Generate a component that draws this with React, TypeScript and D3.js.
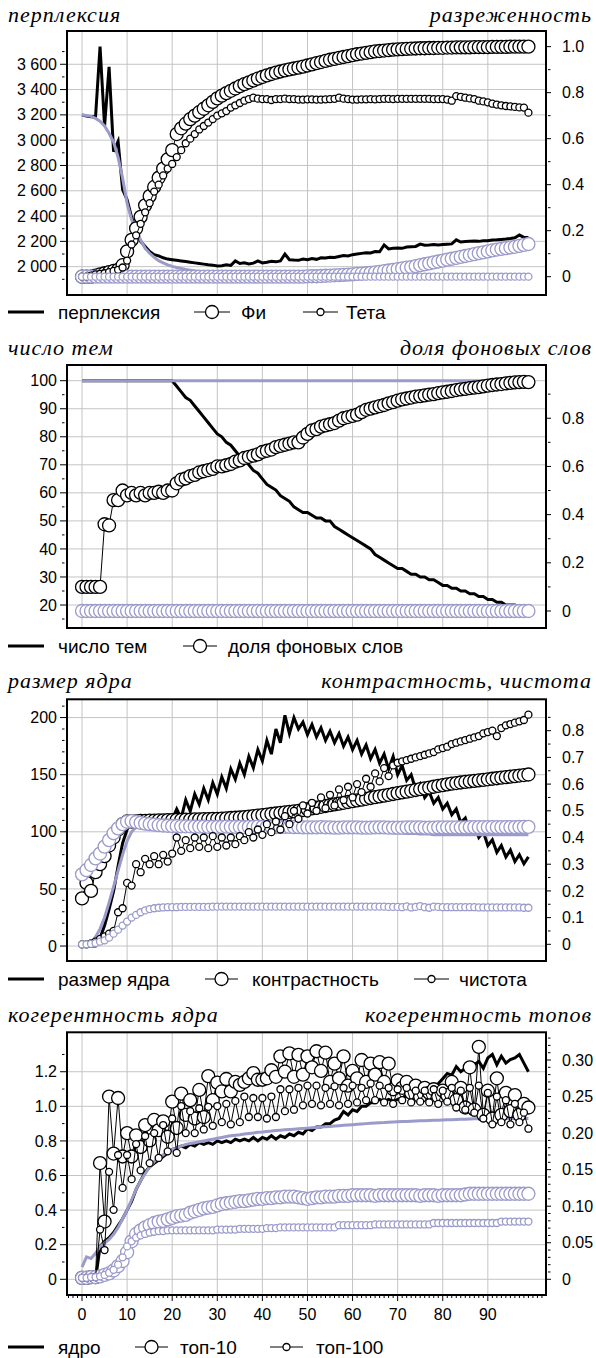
import React from 'react';
import * as d3 from 'd3';

// iterations 0..99 on the shared x axis
const iterations = d3.range(100);
const xTicks = [0, 10, 20, 30, 40, 50, 60, 70, 80, 90];

// ---- panel 1: perplexity (left), sparsity of Phi / Theta (right)
const perplexityDark = [
  3200, 3190, 3185, 3185, 3740, 3110, 3580, 2910, 2990, 2610,
  2530, 2390, 2280, 2200, 2160, 2120, 2095, 2085, 2070, 2060,
  2055, 2050, 2045, 2040, 2035, 2030, 2025, 2020, 2015, 2012,
  2005, 2008, 2015, 2010, 2045, 2025, 2030, 2022, 2028, 2045,
  2030, 2035, 2042, 2038, 2045, 2100, 2055, 2052, 2050, 2060,
  2055, 2065, 2058, 2070, 2068, 2075, 2072, 2080, 2088, 2085,
  2095, 2100, 2105, 2110, 2108, 2120, 2118, 2172, 2140, 2145,
  2148, 2145, 2155, 2158, 2160, 2178, 2170, 2172, 2175, 2172,
  2175, 2178, 2180, 2212, 2195, 2198, 2200, 2202, 2200, 2205,
  2205, 2210, 2212, 2215, 2218, 2222, 2228, 2250, 2232, 2230,
];
const perplexityLight = [
  3200, 3195, 3188, 3172, 3150, 3112, 3055, 2985, 2865, 2700,
  2500, 2370, 2290, 2210, 2145, 2106, 2074, 2048, 2030, 2014,
  2002, 1993, 1985, 1978, 1972, 1966, 1961, 1957, 1953, 1950,
  1947, 1945, 1943, 1941, 1940, 1938, 1937, 1936, 1935, 1934,
  1933, 1932, 1932, 1931, 1930, 1930, 1929, 1929, 1928, 1928,
  1928, 1927, 1927, 1927, 1927, 1926, 1926, 1926, 1926, 1926,
  1926, 1926, 1926, 1926, 1925, 1925, 1925, 1925, 1925, 1925,
  1925, 1925, 1925, 1925, 1925, 1925, 1925, 1925, 1925, 1925,
  1925, 1925, 1925, 1925, 1925, 1925, 1925, 1925, 1925, 1925,
  1925, 1925, 1925, 1925, 1925, 1925, 1925, 1925, 1925, 1925,
];
const phiDark = [
  0, 0, 0, .005, .01, .015, .02, .025, .03, .05,
  .11, .16, .21, .26, .31, .35, .39, .43, .47, .51,
  .55, .62, .645, .665, .685, .70, .715, .73, .745, .76,
  .775, .787, .798, .808, .818, .828, .837, .845, .853, .861,
  .868, .875, .881, .887, .892, .897, .901, .905, .909, .913,
  .918, .923, .928, .933, .938, .943, .947, .951, .955, .959,
  .963, .967, .970, .973, .976, .979, .981, .983, .985, .987,
  .988, .989, .990, .991, .992, .993, .993, .994, .994, .995,
  .995, .996, .996, .997, .997, .997, .997, .998, .998, .998,
  .998, .999, .999, .999, .999, 1, 1, 1, 1, 1,
];
const phiLight = [
  0, 0, 0, 0, 0, 0, 0, 0, 0, 0,
  0, 0, 0, 0, 0, 0, 0, 0, 0, 0,
  0, 0, 0, 0, 0, 0, 0, 0, 0, 0,
  0, 0, 0, 0, 0, 0, 0, 0, 0, 0,
  0, 0, 0, 0, 0, 0, 0, 0, 0, 0,
  .001, .002, .002, .003, .004, .005, .006, .007, .008, .009,
  .010, .012, .013, .015, .017, .019, .021, .024, .027, .030,
  .033, .036, .039, .042, .046, .050, .054, .058, .062, .066,
  .070, .074, .078, .082, .086, .090, .094, .098, .102, .106,
  .110, .114, .118, .121, .124, .127, .130, .134, .138, .142,
];
const thetaDark = [
  0, 0, .005, .01, .012, .015, .02, .025, .03, .04,
  .07, .14, .18, .23, .28, .32, .37, .40, .44, .47,
  .49, .52, .55, .58, .60, .62, .64, .655, .67, .685,
  .70, .71, .72, .735, .745, .755, .765, .772, .778, .774,
  .772, .772, .768, .772, .772, .774, .772, .772, .770, .770,
  .771, .771, .770, .770, .771, .772, .773, .778, .774, .772,
  .770, .770, .771, .771, .772, .771, .772, .773, .773, .772,
  .773, .773, .773, .773, .773, .773, .773, .773, .772, .772,
  .772, .770, .765, .785, .782, .778, .775, .772, .765, .762,
  .758, .752, .748, .745, .742, .740, .738, .736, .735, .713,
];
const thetaLight = [
  0, 0, 0, 0, 0, 0, 0, 0, 0, 0,
  0, 0, 0, 0, 0, 0, 0, 0, 0, 0,
  0, 0, 0, 0, 0, 0, 0, 0, 0, 0,
  0, 0, 0, 0, 0, 0, 0, 0, 0, 0,
  0, 0, 0, 0, 0, 0, 0, 0, 0, 0,
  0, 0, 0, 0, 0, 0, 0, 0, 0, 0,
  0, 0, 0, 0, 0, 0, 0, 0, 0, 0,
  0, 0, 0, 0, 0, 0, 0, 0, 0, 0,
  0, 0, 0, 0, 0, 0, 0, 0, 0, 0,
  0, 0, 0, 0, 0, 0, 0, 0, 0, 0,
];
const perplexityTicks = [2000, 2200, 2400, 2600, 2800, 3000, 3200, 3400, 3600];
const perplexityMinor = [1900, 2100, 2300, 2500, 2700, 2900, 3100, 3300, 3500, 3700];
const sparsityTicks = [0, 0.2, 0.4, 0.6, 0.8, 1.0];
const sparsityMinor = [0.1, 0.3, 0.5, 0.7, 0.9];

// ---- panel 2: number of topics (left), background word share (right)
const topicsDark = [
  100, 100, 100, 100, 100, 100, 100, 100, 100, 100,
  100, 100, 100, 100, 100, 100, 100, 100, 100, 100,
  100, 98, 96, 94, 93, 91, 89, 87, 85, 83,
  81, 80, 78, 77, 75, 73, 72, 70, 68, 67,
  65, 63, 62, 61, 59, 58, 57, 55, 54, 53,
  53, 52, 51, 51, 50, 50, 48, 47, 46, 45,
  44, 43, 42, 41, 40, 38, 37, 36, 35, 34,
  33, 33, 32, 31, 31, 30, 30, 29, 29, 28,
  27, 27, 26, 26, 25, 25, 24, 24, 23, 23,
  22, 22, 21, 21, 20, 20, 20, 19, 19, 19,
];
const topicsLight = [
  100, 100, 100, 100, 100, 100, 100, 100, 100, 100,
  100, 100, 100, 100, 100, 100, 100, 100, 100, 100,
  100, 100, 100, 100, 100, 100, 100, 100, 100, 100,
  100, 100, 100, 100, 100, 100, 100, 100, 100, 100,
  100, 100, 100, 100, 100, 100, 100, 100, 100, 100,
  100, 100, 100, 100, 100, 100, 100, 100, 100, 100,
  100, 100, 100, 100, 100, 100, 100, 100, 100, 100,
  100, 100, 100, 100, 100, 100, 100, 100, 100, 100,
  100, 100, 100, 100, 100, 100, 100, 100, 100, 100,
  100, 100, 100, 100, 100, 100, 100, 100, 100, 100,
];
const backgroundDark = [
  .10, .10, .10, .10, .10, .36, .355, .46, .46, .50,
  .48, .49, .48, .49, .48, .49, .49, .495, .49, .50,
  .50, .53, .545, .55, .56, .565, .575, .58, .585, .59,
  .60, .60, .605, .61, .62, .625, .635, .64, .645, .65,
  .66, .665, .67, .68, .685, .69, .695, .70, .70, .72,
  .735, .75, .755, .765, .77, .775, .78, .79, .80, .805,
  .81, .815, .825, .835, .84, .845, .85, .855, .862, .867,
  .873, .878, .882, .886, .89, .892, .895, .898, .90, .904,
  .907, .91, .913, .917, .92, .922, .925, .927, .929, .932,
  .935, .938, .94, .942, .945, .947, .949, .95, .951, .95,
];
const backgroundLight = [
  0, 0, 0, 0, 0, 0, 0, 0, 0, 0,
  0, 0, 0, 0, 0, 0, 0, 0, 0, 0,
  0, 0, 0, 0, 0, 0, 0, 0, 0, 0,
  0, 0, 0, 0, 0, 0, 0, 0, 0, 0,
  0, 0, 0, 0, 0, 0, 0, 0, 0, 0,
  0, 0, 0, 0, 0, 0, 0, 0, 0, 0,
  0, 0, 0, 0, 0, 0, 0, 0, 0, 0,
  0, 0, 0, 0, 0, 0, 0, 0, 0, 0,
  0, 0, 0, 0, 0, 0, 0, 0, 0, 0,
  0, 0, 0, 0, 0, 0, 0, 0, 0, 0,
];
const topicsTicks = [20, 30, 40, 50, 60, 70, 80, 90, 100];
const topicsMinor = [15, 25, 35, 45, 55, 65, 75, 85, 95];
const backgroundTicks = [0, 0.2, 0.4, 0.6, 0.8];
const backgroundMinor = [0.1, 0.3, 0.5, 0.7, 0.9];

// ---- panel 3: kernel size (left), contrast and purity (right)
const kernelDark = [
  0, 0, 0, 0, 7, 18, 32, 48, 70, 90,
  102, 108, 110, 110, 110, 110, 111, 110, 111, 110,
  111, 120, 112, 128, 118, 133, 124, 138, 128, 143,
  133, 148, 138, 155, 146, 160, 150, 166, 156, 172,
  162, 180, 168, 190, 178, 202, 186, 200, 190, 196,
  185, 194, 183, 191, 180, 188, 178, 186, 175, 183,
  172, 180, 168, 176, 164, 172, 160, 168, 155, 166,
  150, 158, 145, 150, 137, 142, 130, 135, 125, 130,
  120, 125, 115, 120, 108, 112, 100, 106, 95, 100,
  88, 93, 82, 88, 78, 84, 74, 80, 72, 78,
];
const kernelLight = [
  0, 1, 3, 8, 15, 25, 38, 52, 66, 80,
  92, 100, 104, 105, 105, 105, 105, 105, 105, 105,
  105, 105, 105, 105, 105, 104.5, 104.5, 104.5, 104.5, 104.5,
  104, 104, 104, 104, 104, 104, 104, 103.5, 103.5, 103.5,
  103.5, 103, 103, 103, 103, 103, 102.5, 102.5, 102.5, 102.5,
  102, 102, 102, 102, 101.5, 101.5, 101.5, 101, 101, 101,
  100.5, 100.5, 100.5, 100, 100, 100, 99.5, 99.5, 99.5, 99,
  99, 99, 98.5, 98.5, 98.5, 98, 98, 98, 97.5, 97.5,
  97.5, 97.5, 97.5, 97.5, 97.5, 97.5, 97.5, 97.5, 97.5, 97.5,
  97.5, 97.5, 97.5, 97.5, 97.5, 97.5, 97.5, 97.5, 97.5, 97.5,
];
const contrastDark = [
  .172, .23, .20, .27, .30, .33, .37, .40, .43, .45,
  .46, .46, .46, .462, .462, .463, .463, .464, .464, .465,
  .465, .466, .466, .467, .467, .468, .468, .469, .469, .47,
  .47, .471, .472, .473, .474, .475, .476, .478, .48, .482,
  .484, .486, .488, .49, .492, .494, .496, .498, .50, .503,
  .506, .509, .512, .515, .518, .521, .524, .527, .530, .533,
  .536, .539, .542, .545, .548, .551, .554, .557, .560, .563,
  .566, .569, .572, .575, .578, .581, .584, .587, .590, .593,
  .596, .599, .602, .604, .606, .608, .610, .612, .614, .616,
  .618, .620, .622, .624, .626, .628, .630, .632, .634, .636,
];
const contrastLight = [
  .262, .278, .297, .322, .34, .366, .39, .416, .434, .45,
  .459, .461, .458, .455, .452, .45, .448, .446, .445, .444,
  .443, .443, .442, .442, .442, .441, .441, .441, .440, .440,
  .440, .440, .441, .440, .440, .440, .439, .440, .440, .441,
  .440, .440, .439, .439, .440, .440, .440, .439, .439, .438,
  .438, .438, .438, .439, .438, .438, .437, .437, .438, .438,
  .438, .438, .437, .437, .437, .438, .438, .438, .437, .437,
  .437, .437, .438, .438, .438, .438, .437, .437, .437, .438,
  .438, .438, .438, .438, .438, .438, .439, .439, .439, .439,
  .439, .439, .439, .439, .439, .439, .439, .440, .440, .440,
];
const purityDark = [
  0, 0, .003, .01, .02, .03, .04, .05, .12, .135,
  .23, .22, .30, .27, .32, .30, .33, .30, .335, .31,
  .34, .40, .35, .39, .36, .40, .365, .40, .36, .405,
  .365, .40, .37, .40, .375, .405, .39, .42, .40, .43,
  .41, .45, .42, .46, .43, .48, .45, .50, .47, .52,
  .49, .53, .50, .55, .51, .56, .52, .58, .54, .59,
  .55, .60, .57, .62, .59, .64, .61, .66, .63, .67,
  .68, .685, .69, .695, .70, .705, .71, .715, .72, .73,
  .735, .74, .75, .755, .76, .765, .77, .775, .78, .79,
  .795, .80, .78, .81, .82, .825, .83, .835, .84, .86,
];
const purityLight = [
  0, 0, .002, .005, .01, .015, .025, .04, .055, .07,
  .085, .10, .11, .12, .127, .132, .135, .137, .138, .139,
  .139, .139, .140, .140, .140, .140, .140, .140, .140, .141,
  .141, .141, .141, .141, .141, .141, .141, .141, .141, .141,
  .141, .141, .141, .141, .141, .141, .141, .141, .141, .141,
  .141, .141, .141, .141, .141, .141, .141, .141, .141, .141,
  .141, .141, .141, .141, .141, .141, .141, .141, .140, .140,
  .140, .139, .142, .138, .140, .143, .139, .137, .141, .140,
  .139, .139, .139, .139, .139, .139, .139, .139, .138, .138,
  .138, .138, .138, .138, .138, .138, .138, .138, .137, .137,
];
const kernelTicks = [0, 50, 100, 150, 200];
const kernelMinor = [10, 20, 30, 40, 60, 70, 80, 90, 110, 120, 130, 140, 160, 170, 180, 190, 210];
const contrastTicks = [0, 0.1, 0.2, 0.3, 0.4, 0.5, 0.6, 0.7, 0.8];
const contrastMinor = [0.05, 0.15, 0.25, 0.35, 0.45, 0.55, 0.65, 0.75, 0.85];

// ---- panel 4: kernel coherence (left), top-10 / top-100 coherence (right)
const coherenceDark = [
  0, 0, .04, 0, .19, .22, .24, .27, .31, .35,
  .40, .45, .52, .57, .62, .65, .67, .69, .71, .73,
  .75, .76, .77, .76, .78, .77, .79, .78, .79, .78,
  .80, .79, .80, .79, .81, .80, .81, .80, .82, .80,
  .82, .81, .83, .81, .83, .82, .84, .83, .85, .84,
  .87, .86, .88, .88, .90, .90, .92, .93, .97, .95,
  .98, .97, 1.00, 1.00, 1.02, 1.02, 1.04, 1.03, 1.04, 1.03,
  1.04, 1.05, 1.06, 1.06, 1.08, 1.08, 1.09, 1.10, 1.12, 1.13,
  1.16, 1.19, 1.18, 1.23, 1.20, 1.22, 1.21, 1.24, 1.26, 1.22,
  1.28, 1.30, 1.24, 1.29, 1.25, 1.27, 1.28, 1.30, 1.25, 1.20,
];
const coherenceLight = [
  .07, .13, .12, .15, .19, .21, .23, .26, .30, .35,
  .40, .46, .52, .57, .61, .65, .68, .70, .72, .735,
  .75, .76, .77, .78, .785, .79, .795, .80, .805, .81,
  .815, .82, .825, .83, .833, .836, .84, .843, .846, .85,
  .852, .855, .857, .86, .862, .864, .866, .868, .87, .872,
  .874, .876, .878, .88, .882, .884, .886, .888, .89, .892,
  .894, .896, .898, .90, .902, .904, .905, .906, .908, .91,
  .911, .912, .913, .914, .915, .916, .917, .918, .919, .92,
  .921, .922, .923, .924, .925, .926, .927, .928, .928, .929,
  .929, .93, .93, .93, .93, .93, .93, .93, .93, .93,
];
const top10Dark = [
  .002, .002, .003, .003, .159, .079, .25, .172, .248, .168,
  .20, .168, .197, .181, .211, .19, .218, .204, .216, .195,
  .243, .207, .254, .225, .245, .22, .259, .222, .278, .245,
  .269, .257, .274, .257, .27, .266, .27, .275, .282, .273,
  .273, .275, .286, .277, .305, .284, .309, .277, .307, .28,
  .305, .29, .312, .285, .31, .27, .295, .275, .305, .265,
  .285, .275, .30, .27, .295, .28, .297, .27, .295, .26,
  .272, .262, .27, .255, .265, .25, .262, .255, .26, .25,
  .258, .252, .27, .245, .262, .235, .29, .232, .318, .225,
  .258, .22, .275, .225, .255, .23, .252, .225, .24, .235,
];
const top10Light = [
  .002, .002, .003, .003, .004, .006, .008, .012, .018, .025,
  .037, .052, .062, .067, .071, .074, .077, .079, .08, .082,
  .084, .086, .087, .088, .091, .093, .095, .097, .098, .099,
  .101, .103, .104, .105, .106, .107, .107, .108, .109, .11,
  .11, .111, .111, .112, .112, .113, .113, .113, .112, .111,
  .11, .111, .112, .112, .113, .113, .113, .114, .114, .114,
  .115, .115, .115, .115, .115, .114, .115, .115, .115, .115,
  .115, .115, .115, .115, .115, .114, .115, .115, .115, .114,
  .115, .115, .115, .115, .115, .116, .117, .117, .117, .117,
  .117, .117, .117, .117, .117, .117, .117, .117, .117, .117,
];
const top100Dark = [
  .002, .002, .003, .003, .068, .04, .147, .095, .17, .125,
  .17, .137, .185, .149, .196, .159, .20, .166, .211, .175,
  .22, .173, .237, .20, .23, .20, .234, .205, .236, .21,
  .237, .215, .24, .212, .244, .215, .25, .222, .248, .222,
  .248, .22, .25, .222, .26, .23, .26, .232, .262, .238,
  .265, .24, .265, .238, .262, .24, .264, .238, .262, .24,
  .265, .242, .262, .245, .268, .245, .265, .242, .262, .24,
  .26, .245, .262, .242, .258, .243, .258, .242, .26, .24,
  .258, .243, .262, .235, .258, .232, .262, .228, .265, .22,
  .255, .212, .25, .215, .245, .212, .24, .215, .228, .206,
];
const top100Light = [
  .002, .002, .003, .003, .004, .006, .009, .013, .02, .03,
  .045, .052, .057, .06, .062, .064, .065, .066, .066, .067,
  .067, .067, .067, .067, .067, .067, .067, .067, .067, .067,
  .068, .068, .068, .068, .068, .069, .069, .069, .069, .069,
  .069, .070, .070, .070, .071, .071, .071, .071, .071, .071,
  .071, .071, .071, .071, .071, .071, .071, .074, .074, .074,
  .074, .074, .074, .074, .074, .075, .075, .075, .075, .075,
  .075, .075, .075, .075, .075, .075, .075, .075, .077, .077,
  .077, .077, .077, .077, .077, .077, .077, .077, .077, .077,
  .077, .077, .077, .079, .079, .079, .079, .079, .079, .079,
];
const coherenceTicks = [0, 0.2, 0.4, 0.6, 0.8, 1.0, 1.2];
const coherenceMinor = [0.1, 0.3, 0.5, 0.7, 0.9, 1.1, 1.3];
const topTicks = [0, 0.05, 0.10, 0.15, 0.20, 0.25, 0.30];
const topMinor = [
  0.01, 0.02, 0.03, 0.04, 0.06, 0.07, 0.08, 0.09, 0.11, 0.12, 0.13, 0.14,
  0.16, 0.17, 0.18, 0.19, 0.21, 0.22, 0.23, 0.24, 0.26, 0.27, 0.28, 0.29,
  0.31, 0.32, 0.33,
];

// ---- look
const DARK = '#000';
const LIGHT = '#9a9acb';
const GRID = '#c4c4c4';
const SANS = '"Liberation Sans", Arial, sans-serif';
const SERIF = '"Liberation Serif", "Times New Roman", serif';
const PL = 67;
const PR = 546;

const x = d3.scaleLinear().domain([-3.33, 102.9]).range([PL, PR]);

type Kind = 'line' | 'big' | 'small';
type Series = { values: number[]; side: 'left' | 'right'; color: string; kind: Kind };
type LegendItem = { label: string; kind: Kind; x0: number; x1: number; tx: number };
type PanelSpec = {
  top: number;
  bottom: number;
  leftDomain: [number, number];
  rightDomain: [number, number];
  leftTicks: number[];
  leftMinor: number[];
  leftFormat: (v: number) => string;
  rightTicks: number[];
  rightMinor: number[];
  rightFormat: (v: number) => string;
  leftTitle: string;
  rightTitle: string;
  titleY: number;
  legendY: number;
  legend: LegendItem[];
  series: Series[];
  xAxis?: boolean;
};

const thousands = (v: number) => (v >= 1000 ? `${Math.floor(v / 1000)} ${String(v % 1000).padStart(3, '0')}` : String(v));
const dec = (digits: number) => (v: number) => (v === 0 ? '0' : v.toFixed(digits));
const int = (v: number) => String(v);

const radius = { big: 6.5, small: 3.5 };

function SeriesMark({ s, y }: { s: Series; y: d3.ScaleLinear<number, number> }) {
  const path = d3.line<number>().x((_, i) => x(iterations[i])).y((v) => y(v))(s.values) || '';
  if (s.kind === 'line') {
    return <path d={path} fill="none" stroke={s.color} strokeWidth={3} />;
  }
  const r = radius[s.kind];
  return (
    <g>
      <path d={path} fill="none" stroke={s.color} strokeWidth={1} />
      {s.values.map((v, i) => (
        <circle key={i} cx={x(iterations[i])} cy={y(v)} r={r} fill="#fff" stroke={s.color} strokeWidth={1.3} />
      ))}
    </g>
  );
}

function Panel({ spec }: { spec: PanelSpec }) {
  const { top, bottom } = spec;
  const yL = d3.scaleLinear().domain(spec.leftDomain).range([bottom, top]);
  const yR = d3.scaleLinear().domain(spec.rightDomain).range([bottom, top]);

  return (
    <g>
      {/* grid */}
      <g stroke={GRID} strokeWidth={1}>
        {xTicks.map((v) => (
          <line key={'gx' + v} x1={x(v)} x2={x(v)} y1={top} y2={bottom} />
        ))}
        {spec.leftTicks.map((v) => (
          <line key={'gy' + v} x1={PL} x2={PR} y1={yL(v)} y2={yL(v)} />
        ))}
      </g>

      {spec.series.map((s, k) => (
        <SeriesMark key={k} s={s} y={s.side === 'left' ? yL : yR} />
      ))}

      <rect x={PL} y={top} width={PR - PL} height={bottom - top} fill="none" stroke={DARK} strokeWidth={2} />

      {/* left axis */}
      <g stroke={DARK} strokeWidth={1}>
        {spec.leftTicks.map((v) => (
          <line key={'lt' + v} x1={60} x2={PL} y1={yL(v)} y2={yL(v)} />
        ))}
        {spec.leftMinor.map((v) => (
          <line key={'lm' + v} x1={62} x2={64.5} y1={yL(v)} y2={yL(v)} />
        ))}
        {spec.rightTicks.map((v) => (
          <line key={'rt' + v} x1={PR} x2={551} y1={yR(v)} y2={yR(v)} />
        ))}
        {spec.rightMinor.map((v) => (
          <line key={'rm' + v} x1={548} x2={550.5} y1={yR(v)} y2={yR(v)} />
        ))}
      </g>
      <g fontFamily={SANS} fontSize={16} fill={DARK}>
        {spec.leftTicks.map((v) => (
          <text key={'ll' + v} x={57} y={yL(v)} dy="0.35em" textAnchor="end">
            {spec.leftFormat(v)}
          </text>
        ))}
        {spec.rightTicks.map((v) => (
          <text key={'rl' + v} x={562} y={yR(v)} dy="0.35em">
            {spec.rightFormat(v)}
          </text>
        ))}
      </g>

      {spec.xAxis && (
        <g>
          <g stroke={DARK} strokeWidth={1}>
            {d3.range(-3, 103).map((v) => (
              <line key={'xt' + v} x1={x(v)} x2={x(v)} y1={bottom} y2={v % 10 === 0 && v >= 0 && v <= 90 ? bottom + 6 : bottom + 3} />
            ))}
          </g>
          <g fontFamily={SANS} fontSize={16} fill={DARK} textAnchor="middle">
            {xTicks.map((v) => (
              <text key={'xl' + v} x={x(v)} y={bottom + 25}>
                {v}
              </text>
            ))}
          </g>
        </g>
      )}

      {/* titles */}
      <g fontFamily={SERIF} fontStyle="italic" fontSize={22} fill={DARK} letterSpacing={1}>
        <text x={8} y={spec.titleY}>{spec.leftTitle}</text>
        <text x={592} y={spec.titleY} textAnchor="end">{spec.rightTitle}</text>
      </g>

      {/* legend */}
      <g>
        {spec.legend.map((item) => {
          const cy = spec.legendY;
          return (
            <g key={item.label}>
              {item.kind === 'line' ? (
                <line x1={item.x0} x2={item.x1} y1={cy} y2={cy} stroke={DARK} strokeWidth={3} />
              ) : (
                <g>
                  <line x1={item.x0} x2={item.x1} y1={cy} y2={cy} stroke={DARK} strokeWidth={1} />
                  <circle cx={(item.x0 + item.x1) / 2} cy={cy} r={radius[item.kind]} fill="#fff" stroke={DARK} strokeWidth={1.3} />
                </g>
              )}
              <text x={item.tx} y={cy} dy="0.36em" fontFamily={SANS} fontSize={19} fill={DARK}>
                {item.label}
              </text>
            </g>
          );
        })}
      </g>
    </g>
  );
}

const panels: PanelSpec[] = [
  {
    top: 31, bottom: 295,
    leftDomain: [1776, 3863], rightDomain: [-0.0796, 1.068],
    leftTicks: perplexityTicks, leftMinor: perplexityMinor, leftFormat: thousands,
    rightTicks: sparsityTicks, rightMinor: sparsityMinor, rightFormat: dec(1),
    leftTitle: 'перплексия', rightTitle: 'разреженность', titleY: 22, legendY: 312,
    legend: [
      { label: 'перплексия', kind: 'line', x0: 8, x1: 44, tx: 58 },
      { label: 'Фи', kind: 'big', x0: 194, x1: 230, tx: 241 },
      { label: 'Тета', kind: 'small', x0: 303, x1: 338, tx: 346 },
    ],
    series: [
      { values: perplexityDark, side: 'left', color: DARK, kind: 'line' },
      { values: perplexityLight, side: 'left', color: LIGHT, kind: 'line' },
      { values: phiDark, side: 'right', color: DARK, kind: 'big' },
      { values: phiLight, side: 'right', color: LIGHT, kind: 'big' },
      { values: thetaDark, side: 'right', color: DARK, kind: 'small' },
      { values: thetaLight, side: 'right', color: LIGHT, kind: 'small' },
    ],
  },
  {
    top: 365, bottom: 628,
    leftDomain: [11.8, 105.6], rightDomain: [-0.0706, 1.021],
    leftTicks: topicsTicks, leftMinor: topicsMinor, leftFormat: int,
    rightTicks: backgroundTicks, rightMinor: backgroundMinor, rightFormat: dec(1),
    leftTitle: 'число тем', rightTitle: 'доля фоновых слов', titleY: 355, legendY: 646,
    legend: [
      { label: 'число тем', kind: 'line', x0: 8, x1: 44, tx: 58 },
      { label: 'доля фоновых слов', kind: 'big', x0: 183, x1: 217, tx: 228 },
    ],
    series: [
      { values: topicsDark, side: 'left', color: DARK, kind: 'line' },
      { values: topicsLight, side: 'left', color: LIGHT, kind: 'line' },
      { values: backgroundDark, side: 'right', color: DARK, kind: 'big' },
      { values: backgroundLight, side: 'right', color: LIGHT, kind: 'big' },
    ],
  },
  {
    top: 699.3, bottom: 961,
    leftDomain: [-13.1, 216], rightDomain: [-0.0625, 0.9176],
    leftTicks: kernelTicks, leftMinor: kernelMinor, leftFormat: int,
    rightTicks: contrastTicks, rightMinor: contrastMinor, rightFormat: dec(1),
    leftTitle: 'размер ядра', rightTitle: 'контрастность, чистота', titleY: 688, legendY: 979,
    legend: [
      { label: 'размер ядра', kind: 'line', x0: 8, x1: 44, tx: 58 },
      { label: 'контрастность', kind: 'big', x0: 205, x1: 238, tx: 252 },
      { label: 'чистота', kind: 'small', x0: 414, x1: 449, tx: 459 },
    ],
    series: [
      { values: kernelDark, side: 'left', color: DARK, kind: 'line' },
      { values: kernelLight, side: 'left', color: LIGHT, kind: 'line' },
      { values: contrastDark, side: 'right', color: DARK, kind: 'big' },
      { values: contrastLight, side: 'right', color: LIGHT, kind: 'big' },
      { values: purityDark, side: 'right', color: DARK, kind: 'small' },
      { values: purityLight, side: 'right', color: LIGHT, kind: 'small' },
    ],
  },
  {
    top: 1032.3, bottom: 1295,
    leftDomain: [-0.0908, 1.428], rightDomain: [-0.0215, 0.3379],
    leftTicks: coherenceTicks, leftMinor: coherenceMinor, leftFormat: dec(1),
    rightTicks: topTicks, rightMinor: topMinor, rightFormat: dec(2),
    leftTitle: 'когерентность ядра', rightTitle: 'когерентность топов', titleY: 1022, legendY: 1347,
    legend: [
      { label: 'ядро', kind: 'line', x0: 8, x1: 44, tx: 58 },
      { label: 'топ-10', kind: 'big', x0: 135, x1: 168, tx: 180 },
      { label: 'топ-100', kind: 'small', x0: 270, x1: 303, tx: 316 },
    ],
    series: [
      { values: coherenceDark, side: 'left', color: DARK, kind: 'line' },
      { values: coherenceLight, side: 'left', color: LIGHT, kind: 'line' },
      { values: top10Dark, side: 'right', color: DARK, kind: 'big' },
      { values: top10Light, side: 'right', color: LIGHT, kind: 'big' },
      { values: top100Dark, side: 'right', color: DARK, kind: 'small' },
      { values: top100Light, side: 'right', color: LIGHT, kind: 'small' },
    ],
    xAxis: true,
  },
];

export default function App() {
  return (
    <svg
      width={596}
      height={1358}
      style={{ position: 'absolute', left: 0, top: 0, background: '#fff' }}
    >
      <rect width={596} height={1358} fill="#fff" />
      {panels.map((p, i) => (
        <Panel key={i} spec={p} />
      ))}
    </svg>
  );
}
